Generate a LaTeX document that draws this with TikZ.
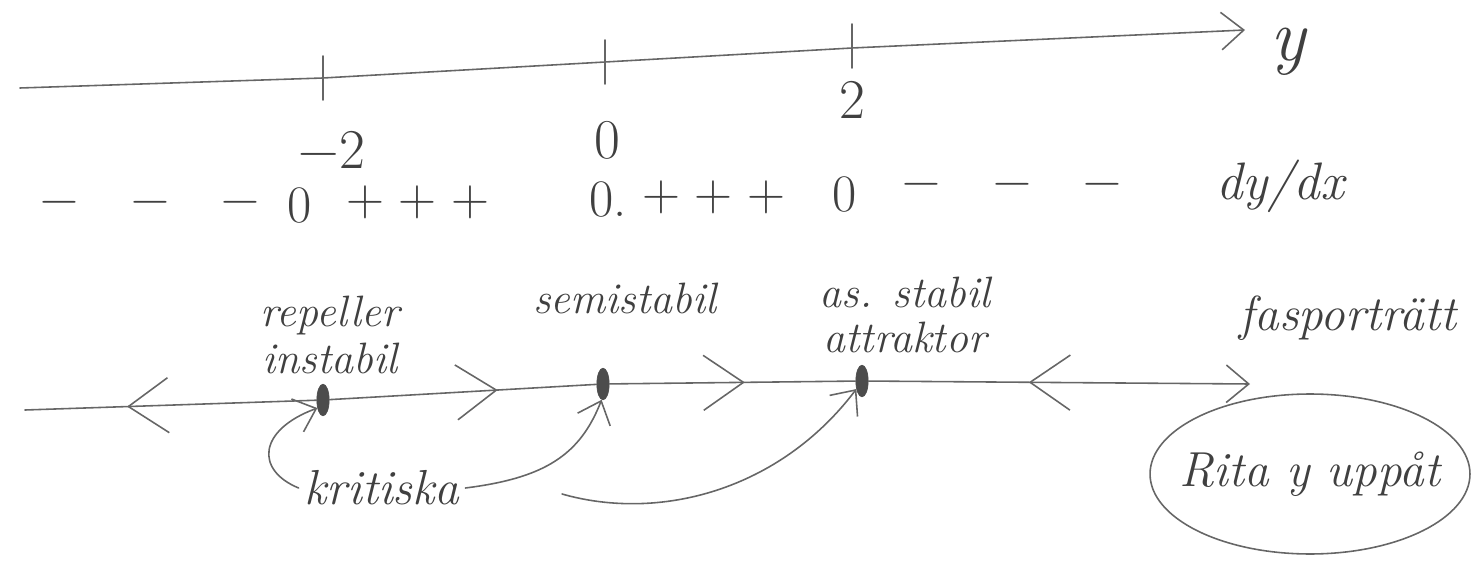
\documentclass[tikz,border=0pt]{standalone}
\usepackage{fontspec}
\usetikzlibrary{arrows.meta,decorations.markings,shapes.geometric}
\tikzset{
  chev/.tip={Straight Barb[length=8mm,width=11mm,line width=0.9pt]},
  axchev/.tip={Straight Barb[length=4.5mm,width=7.5mm,line width=0.9pt]},
  smallchev/.tip={Straight Barb[length=4mm,width=7mm,line width=0.9pt]}
}
\begin{document}
\begin{tikzpicture}[x=0.02cm,y=-0.02cm,
  pencil/.style={draw=black!60,line width=0.9pt,line cap=round},
  hand/.style={font=\fontsize{25}{25}\selectfont\itshape,text=black!75,inner sep=1pt},
  bighand/.style={font=\fontsize{32}{34}\selectfont,text=black!75,inner sep=1pt},
  signs/.style={font=\fontsize{30}{32}\selectfont,text=black!75,inner sep=1pt},
  critdot/.style={ellipse,fill=black!70,draw=black!70,minimum width=7pt,minimum height=18pt,inner sep=0pt},
  fwd/.style={postaction={decorate},decoration={markings,mark=at position #1 with {\arrow{chev}}}},
  bwd/.style={postaction={decorate},decoration={markings,mark=at position #1 with {\arrowreversed{chev}}}}
]
\useasboundingbox (0,0) rectangle (1474,574);

% top y-axis
\coordinate (a0) at (20,88);
\coordinate (t1) at (323,78);
\coordinate (t2) at (605,62);
\coordinate (t3) at (852,48);
\coordinate (a1) at (1245,30);
\draw[pencil,-{axchev}] (a0) -- (t1) -- (t2) -- (t3) -- (a1);
\draw[pencil] (t1) ++(0,-22) -- ++(0,44);
\draw[pencil] (t2) ++(0,-22) -- ++(0,44);
\draw[pencil] (t3) ++(0,-24) -- ++(0,44);
\node[font=\fontsize{42}{42}\selectfont\itshape,text=black!75,inner sep=1pt] (ylab) at (1288,52) {y};

% tick labels
\node[bighand] (m2) at (332,150) {−2};
\node[bighand] (z0) at (607,140) {0};
\node[bighand] (p2l) at (852,100) {2};

% sign row
\node[signs] (s1) at (150,208) {−\quad−\quad−};
\node[signs] (s0a) at (300,206) {0};
\node[signs] (s2) at (418,202) {+\;+\;+};
\node[signs] (s0b) at (608,200) {0.};
\node[signs] (s3) at (714,197) {+\;+\;+};
\node[signs] (s0c) at (845,195) {0};
\node[signs] (s4) at (1012,190) {−\quad−\quad−};
\node[font=\fontsize{30}{30}\selectfont\itshape,text=black!75] (dydx) at (1280,186) {dy/dx};

% phase line
\coordinate (l0) at (25,410);
\node[critdot] (p1) at (323,400) {};
\node[critdot] (p2) at (603,384) {};
\node[critdot] (p3) at (862,381) {};
\coordinate (l1) at (1250,384);
\draw[pencil,bwd=0.35] (l0) -- (p1);
\draw[pencil,fwd=0.63] (p1) -- (p2);
\draw[pencil,fwd=0.55] (p2) -- (p3);
\draw[pencil,bwd=0.42,-{axchev}] (p3) -- (l1);

% labels
\node[hand] (rep) at (330,316) {repeller};
\node[hand] (inst) at (330,358) {instabil};
\node[hand] (semi) at (625,298) {semistabil};
\node[hand] (asst) at (905,292) {as. stabil};
\node[hand] (attr) at (905,337) {attraktor};
\node[font=\fontsize{28}{28}\selectfont\itshape,text=black!75] (fas) at (1348,318) {fasporträtt};

% kritiska
\node[font=\fontsize{28}{28}\selectfont\itshape,text=black!75] (kr) at (382,488) {kritiska};
\coordinate (c3) at (562,494);
\draw[pencil,-{smallchev}] (kr.west) .. controls (255,470) and (258,430) .. (p1.235);
\draw[pencil,-{smallchev}] (kr.east) .. controls (545,478) and (580,455) .. (p2.265);
\draw[pencil,-{smallchev}] (c3) .. controls (660,522) and (780,490) .. (p3.235);

% boxed note
\node[font=\fontsize{28}{28}\selectfont\itshape,text=black!75] (rita) at (1310,474) {Rita y uppåt};
\draw[pencil] (rita.center) ellipse [x radius=3.2cm, y radius=1.6cm];
\end{tikzpicture}
\end{document}
